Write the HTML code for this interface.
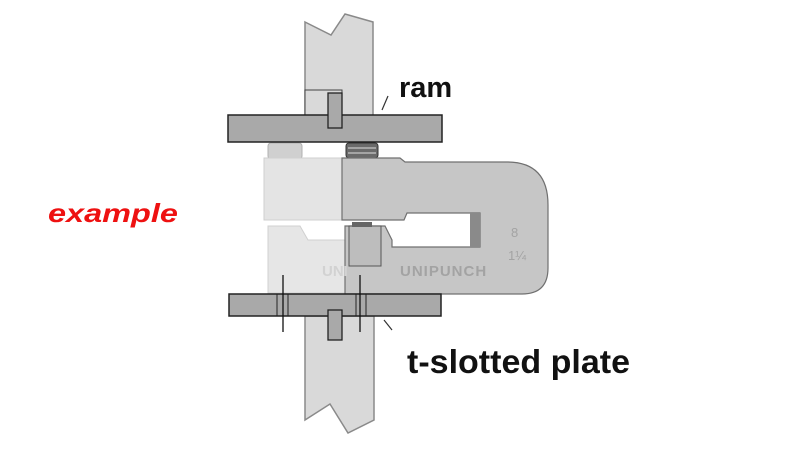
<!DOCTYPE html>
<html><head><style>
html,body{margin:0;padding:0;background:#fff;}
svg{display:block;}
</style></head><body>
<svg width="800" height="475" viewBox="0 0 800 475" xmlns="http://www.w3.org/2000/svg">
<!-- top column -->
<polygon points="305,22 331,35 345,14 373,22 373,116 305,116" fill="#d9d9d9" stroke="#8a8a8a" stroke-width="1.5"/>
<!-- springs -->
<rect x="268" y="143" width="34" height="16" rx="3" fill="#d0d0d0" stroke="#b0b0b0"/>
<rect x="346" y="143" width="32" height="15" rx="3" fill="#6a6a6a" stroke="#333"/>
<line x1="348" y1="148" x2="376" y2="148" stroke="#ddd"/>
<line x1="348" y1="153" x2="376" y2="153" stroke="#ddd"/>
<!-- light left body -->
<path d="M264,158 H342 V220 H264 Z" fill="#e4e4e4" stroke="#cfcfcf"/>
<path d="M268,226 H300 L308,240 H345 V293 H268 Z" fill="#e6e6e6" stroke="#d0d0d0"/>
<!-- dark C frame -->
<path d="M342,158 H400 L405,162 H507 Q548,162 548,205 V268 Q548,294 522,294 H345 V226 H385 L392,240 V247 H480 V213 H407 L404,220 H342 Z" fill="#c6c6c6" stroke="#707070" stroke-width="1.2"/>
<rect x="470" y="213" width="10" height="34" fill="#8a8a8a"/>
<rect x="349" y="226" width="32" height="40" fill="#bdbdbd" stroke="#555"/>
<rect x="352" y="222" width="20" height="5" fill="#666"/>
<text x="400" y="276" font-family="Liberation Sans, sans-serif" font-weight="bold" font-size="15" fill="#a3a3a3" letter-spacing="1">UNIPUNCH</text>
<text x="322" y="276" font-family="Liberation Sans, sans-serif" font-weight="bold" font-size="15" fill="#d2d2d2">UNI</text>
<text x="511" y="237" font-family="Liberation Sans, sans-serif" font-size="13" fill="#a3a3a3">8</text>
<text x="508" y="260" font-family="Liberation Sans, sans-serif" font-size="13" fill="#a3a3a3">1¼</text>
<!-- ram plate -->
<rect x="305" y="90" width="37" height="26" fill="#d9d9d9" stroke="#444"/>
<rect x="228" y="115" width="214" height="27" fill="#a9a9a9" stroke="#222" stroke-width="1.5"/>
<rect x="328" y="93" width="14" height="35" fill="#a9a9a9" stroke="#222" stroke-width="1.3"/>
<!-- bottom column -->
<polygon points="305,316 374,316 374,420 348,433 330,404 305,420" fill="#d9d9d9" stroke="#8a8a8a" stroke-width="1.5"/>
<!-- lower plate -->
<rect x="229" y="294" width="212" height="22" fill="#a9a9a9" stroke="#222" stroke-width="1.5"/>
<rect x="277" y="294" width="11" height="22" fill="none" stroke="#222"/>
<rect x="356" y="294" width="10" height="22" fill="none" stroke="#222"/>
<line x1="283" y1="275" x2="283" y2="332" stroke="#111" stroke-width="1.3"/>
<line x1="360" y1="275" x2="360" y2="332" stroke="#111" stroke-width="1.3"/>
<rect x="328" y="310" width="14" height="30" fill="#a9a9a9" stroke="#222" stroke-width="1.3"/>
<!-- pointers -->
<line x1="388" y1="96" x2="382" y2="110" stroke="#333" stroke-width="1.2"/>
<line x1="384" y1="320" x2="392" y2="330" stroke="#333" stroke-width="1.2"/>
<!-- labels -->
<text x="399" y="97" font-family="Liberation Sans, sans-serif" font-weight="bold" font-size="29" fill="#111">ram</text>
<text x="407" y="373" font-family="Liberation Sans, sans-serif" font-size="33" fill="#111" font-weight="bold" textLength="223" lengthAdjust="spacingAndGlyphs">t-slotted plate</text>
<text x="48" y="222" font-family="Liberation Sans, sans-serif" font-style="italic" font-weight="bold" font-size="26" fill="#ee1111" textLength="130" lengthAdjust="spacingAndGlyphs">example</text>
</svg>
</body></html>
